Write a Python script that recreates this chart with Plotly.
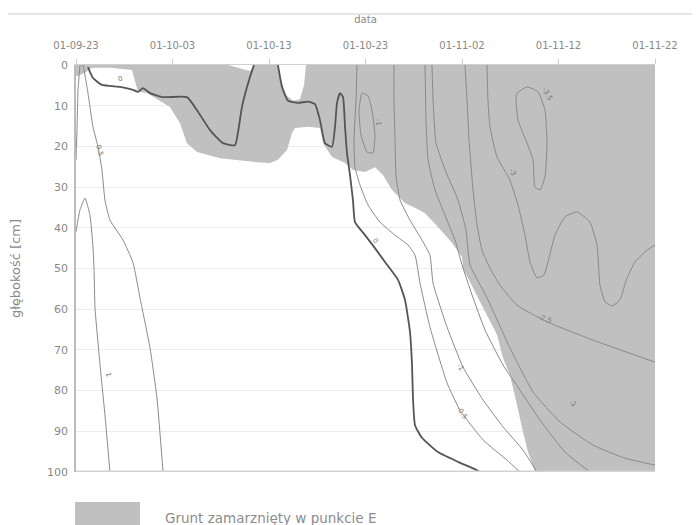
import pandas as pd
import plotly.graph_objects as go

START = pd.Timestamp("2001-09-23")

# --- tick labels ---
tick_days = [0, 10, 20, 30, 40, 50, 60]
depth_ticks = [0, 10, 20, 30, 40, 50, 60, 70, 80, 90, 100]

# --- frozen ground region (day offset, depth cm) ---
frozen_day = [0, 15.75, 18.03, 18.55, 20.93, 21.24, 21.76, 22.49, 23.21, 23.63, 23.83,
              60, 60, 47.56, 46.84, 46.32, 45.7, 44.97, 44.25, 43.63, 41.87, 40.1, 40.0,
              38.96, 37.51, 36.17, 35.13, 34.09, 32.75, 31.81, 30.98, 29.95, 28.7, 27.88,
              26.53, 25.6, 25.28, 24.04, 22.69, 22.38, 21.87, 20.93, 20.1, 18.34, 14.92,
              12.54, 11.5, 10.78, 9.74, 7.36, 6.42, 5.8, 3.52, 1.66, 1.04, 0.21, 0]
frozen_depth = [0, 0, 1.47, 0, 0, 3.7, 7.4, 8.8, 8.4, 4.9, 0,
                0, 100, 100, 95.1, 90.2, 83.5, 76.2, 72.0, 66.3, 58.2, 49.9, 47.2,
                43.7, 39.8, 36.4, 35.1, 33.9, 30.7, 27.0, 25.1, 26.3, 25.8, 24.1,
                22.6, 19.2, 15.5, 15.2, 15.5, 16.7, 20.9, 23.3, 24.1, 23.8, 22.9,
                21.4, 19.2, 14.3, 10.3, 6.9, 6.6, 1.2, 0.7, 0.7, 1.7, 2.7, 2.7]

# --- isotherms (day offset, depth cm) ---
iso_0a_day = [1.24, 1.76, 2.69, 4.56, 5.91, 6.42, 6.94, 7.67, 9.02, 11.5, 12.54, 13.89,
              15.23, 16.48, 16.79, 17.2, 17.72, 18.34, 18.45]
iso_0a_depth = [0.5, 3.2, 4.9, 5.4, 6.1, 6.6, 5.7, 6.9, 7.9, 7.9, 11.1, 16.0,
                19.2, 19.7, 16.5, 10.3, 5.4, 0.7, 0]

iso_0b_day = [20.93, 21.35, 21.97, 23.0, 24.04, 24.77, 25.28, 25.8, 26.53, 26.84, 27.05,
              27.36, 27.67, 27.88, 28.08, 28.39, 28.7, 28.91, 29.95, 30.98, 32.02, 33.37,
              34.09, 34.61, 34.82, 34.92, 35.13, 35.85, 37.51, 39.59, 41.04, 41.87]
iso_0b_depth = [0, 5.4, 8.8, 9.3, 9.0, 9.6, 13.5, 19.2, 20.1, 15.2, 9.3,
                6.9, 7.9, 15.2, 21.6, 27.0, 33.2, 38.6, 41.8, 45.0, 48.4, 52.8,
                57.7, 65.6, 73.7, 81.8, 88.5, 91.6, 95.1, 97.5, 99.0, 100]

iso_p05_day = [0.73, 0.93, 1.24, 1.76, 2.28, 2.69, 3.0, 3.52, 4.87, 5.91, 6.63, 7.67, 8.39, 9.02]
iso_p05_depth = [0, 2.5, 6.9, 15.2, 20.1, 25.8, 33.2, 38.1, 43.0, 48.6, 57.2, 69.5, 81.8, 100]

iso_p1_day = [0, 0.41, 0.93, 1.45, 1.76, 1.87, 1.97, 2.49, 3.0, 3.52]
iso_p1_depth = [41.0, 35.6, 32.7, 36.9, 44.7, 50.4, 59.7, 73.7, 86.0, 100]

iso_p15_day = [0.41, 0.21, 0.1, 0.0]
iso_p15_depth = [0.2, 6.1, 16.0, 23.3]

iso_oval_day = [29.64, 29.33, 29.53, 30.16, 30.78, 30.98, 30.67, 30.26, 29.64]
iso_oval_depth = [6.9, 11.1, 17.2, 21.4, 21.6, 17.2, 11.1, 7.6, 6.9]

iso_m05_day = [29.12, 29.02, 28.81, 28.91, 29.43, 30.26, 31.5, 33.06, 34.4, 35.13, 35.65,
               36.68, 38.45, 39.79, 42.18, 44.66, 46.01]
iso_m05_depth = [0, 8.6, 18.4, 25.1, 29.5, 34.4, 38.6, 41.8, 44.2, 46.7, 53.6,
                 64.4, 78.1, 84.8, 92.1, 97.1, 100]

iso_m1_day = [32.95, 32.95, 33.06, 33.16, 33.58, 34.61, 35.85, 36.68, 37.0, 38.45, 40.1,
              42.18, 44.25, 46.32, 47.77]
iso_m1_depth = [0, 8.6, 18.4, 27.0, 33.2, 38.1, 43.0, 46.7, 53.6, 64.4, 74.2,
                82.3, 88.9, 94.6, 100]

iso_m15_day = [36.17, 36.27, 36.48, 37.2, 38.24, 39.27, 40.0, 41.04, 42.38, 44.25, 46.01,
               48.08, 50.67, 53.26]
iso_m15_depth = [0, 13.5, 23.3, 30.7, 36.9, 43.0, 49.1, 56.5, 65.1, 73.7, 79.9,
                 87.2, 95.1, 100]

iso_m2_day = [36.89, 37.0, 37.31, 38.34, 39.59, 40.41, 40.83, 42.59, 44.97, 47.36, 50.16,
              53.58, 56.89, 60]
iso_m2_depth = [0, 8.6, 19.2, 26.3, 33.2, 40.5, 49.1, 57.2, 69.5, 80.3, 87.7,
                93.4, 96.6, 98.3]

iso_m25_day = [40.31, 40.52, 40.73, 41.14, 41.56, 42.07, 42.9, 43.94, 45.7, 48.81, 53.58, 60]
iso_m25_depth = [0, 8.6, 18.4, 30.7, 39.3, 45.5, 49.9, 54.1, 59.0, 63.1, 67.6, 73.0]

iso_m3_day = [42.59, 42.69, 42.9, 43.63, 44.97, 45.8, 46.53, 47.05, 47.77, 48.5, 48.91,
              49.64, 50.67, 51.92, 53.26, 53.99, 54.3, 54.82, 55.54, 56.37, 57.1, 57.93,
              58.96, 60]
iso_m3_depth = [0, 8.6, 15.2, 22.6, 28.3, 34.4, 41.8, 48.4, 52.3, 51.6, 48.4,
                41.8, 37.3, 36.1, 38.6, 44.2, 54.1, 58.2, 59.2, 57.7, 52.3, 48.4,
                45.9, 44.2]

iso_m35_day = [45.7, 46.74, 47.88, 48.6, 48.81, 48.6, 48.08, 47.56, 47.36, 46.74, 45.8, 45.6, 45.7]
iso_m35_depth = [6.9, 5.4, 6.6, 11.1, 19.2, 27.5, 30.7, 30.0, 23.3, 19.2, 13.5, 8.6, 6.9]

# isotherm labels: (text, day, depth, angle)
label_text = ["0", "0.5", "1", "0", "-0.5", "-1", "-1", "-2", "-2.5", "-3", "-3.5"]
label_day = [4.56, 2.4, 3.3, 31.0, 40.0, 39.8, 31.3, 51.5, 48.6, 45.2, 48.8]
label_depth = [3.4, 20.9, 76.0, 43.2, 85.5, 74.2, 14.0, 83.3, 62.4, 26.3, 7.2]
label_angle = [-15, 75, 75, 55, 55, 55, 80, 30, 20, 60, 60]

FONT = "DejaVu Sans, Verdana, sans-serif"


def to_dates(days):
    return [START + pd.Timedelta(days=d) for d in days]


fig = go.Figure()

fig.add_trace(go.Scatter(
    x=to_dates(frozen_day), y=frozen_depth, mode="lines", fill="toself",
    fillcolor="#c0c0c0", line=dict(width=0, color="#c0c0c0"),
    hoverinfo="skip", showlegend=False))

thin = dict(color="#8a8a8a", width=1)
thick = dict(color="#555555", width=1.8)
lines = [
    (iso_0a_day, iso_0a_depth, thick),
    (iso_0b_day, iso_0b_depth, thick),
    (iso_p05_day, iso_p05_depth, thin),
    (iso_p1_day, iso_p1_depth, thin),
    (iso_p15_day, iso_p15_depth, thin),
    (iso_oval_day, iso_oval_depth, thin),
    (iso_m05_day, iso_m05_depth, thin),
    (iso_m1_day, iso_m1_depth, thin),
    (iso_m15_day, iso_m15_depth, thin),
    (iso_m2_day, iso_m2_depth, thin),
    (iso_m25_day, iso_m25_depth, thin),
    (iso_m3_day, iso_m3_depth, thin),
    (iso_m35_day, iso_m35_depth, thin),
]
for d, z, st in lines:
    fig.add_trace(go.Scatter(x=to_dates(d), y=z, mode="lines",
                             line=dict(shape="spline", smoothing=0.45, **st),
                             hoverinfo="skip", showlegend=False))

annotations = []
for t, d, z, a in zip(label_text, label_day, label_depth, label_angle):
    annotations.append(dict(x=START + pd.Timedelta(days=d), y=z, xref="x", yref="y", text=t,
                            showarrow=False, textangle=a, font=dict(size=7, color="#777")))

annotations.append(dict(x=0.150, y=-0.113, xref="paper", yref="paper", xanchor="left", yanchor="middle",
                        text="Grunt zamarznięty w punkcie E", showarrow=False,
                        font=dict(size=13.5, color="#8c8c8c", family=FONT)))

fig.update_layout(
    width=692, height=517,
    margin=dict(l=68, r=45, t=57, b=53),
    paper_bgcolor="white", plot_bgcolor="white",
    font=dict(family=FONT, color="#888"),
    annotations=annotations,
    shapes=[
        dict(type="line", xref="paper", yref="paper", x0=-0.1174, x1=1.078, y0=1.1253, y1=1.1253,
             line=dict(color="#cccccc", width=1)),
        dict(type="line", xref="paper", yref="y", x0=0, x1=1, y0=100, y1=100,
             line=dict(color="#d2d2d2", width=3)),
        dict(type="rect", xref="paper", yref="paper", x0=-0.0017, x1=0.1105, y0=-0.0737, y1=-0.131,
             fillcolor="#c0c0c0", line=dict(width=0)),
    ],
    xaxis=dict(
        type="date", side="top", automargin=False,
        range=[START, START + pd.Timedelta(days=60)],
        tickvals=to_dates(tick_days), tickformat="%y-%m-%d",
        ticks="outside", ticklen=5, tickcolor="#cccccc",
        ticklabelstandoff=6,
        tickfont=dict(size=10, color="#888"),
        showgrid=False, zeroline=False, showline=True, linecolor="#d0d0d0",
        title=dict(text="data", font=dict(size=10, color="#888"), standoff=14),
    ),
    yaxis=dict(
        range=[100, 0], tickvals=depth_ticks, automargin=False,
        tickfont=dict(size=11, color="#888"),
        showgrid=True, gridcolor="#ececec", zeroline=False,
        showline=True, linecolor="#bbbbbb", linewidth=1.5,
        ticks="", ticklabelstandoff=4,
        title=dict(text="głębokość [cm]", font=dict(size=13, color="#888"), standoff=25),
    ),
)

fig.write_html("out.html")
